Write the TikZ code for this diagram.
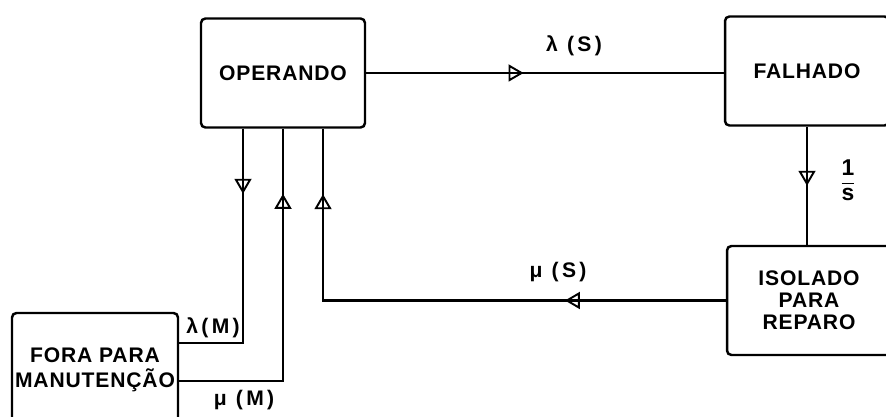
\documentclass[tikz,border=0pt]{standalone}
\usepackage{fontspec}
\setsansfont{Liberation Sans}[LetterSpace=4]
\usetikzlibrary{arrows.meta,calc,decorations.markings}
\tikzset{opentri/.tip={Triangle[open,length=3mm,width=3.4mm,line width=1.1pt]},
  blk/.style={draw, line width=1.4pt, rounded corners=2.5pt, minimum width=3.28cm, minimum height=2.18cm, inner sep=0.5pt, font=\sffamily\bfseries\fontsize{12}{12.5}\selectfont, align=center},
  ln/.style={line width=1.3pt},
  tri/.style={postaction={decorate,decoration={markings,mark=at position #1 with {\arrow{opentri}}}}},
  lbl/.style={font=\sffamily\bfseries\fontsize{12}{13}\selectfont\addfontfeatures{LetterSpace=16}, inner sep=1pt}}

\begin{document}
\begin{tikzpicture}[x=0.02cm, y=0.02cm]
  \useasboundingbox (0,0) rectangle (886,416);
  \clip (0,0) rectangle (886,416);
  \node[blk] (op) at (283,343) {OPERANDO};
  \node[blk] (fa) at (807,345) {FALHADO};
  \node[blk] (iso) at (809,115.5) {ISOLADO\\PARA\\REPARO};
  \node[blk, minimum width=3.32cm, minimum height=2.28cm] (fora) at (95,46) {FORA PARA\\[2pt]MANUTENÇÃO};
  % taps under OPERANDO
  \coordinate (t1) at ($(op.south)+(-40,0)$);
  \coordinate (t3) at ($(op.south)+(40,0)$);
  % failure and isolation
  \draw[ln, tri=0.44] (op.east) -- (op.east -| fa.west);
  \draw[ln, tri=0.5] (fa.south) -- (fa.south |- iso.north);
  % repair back to OPERANDO
  \draw[ln, tri=0.28, tri=0.886] (iso.west) -| (t3);
  % maintenance loop
  \draw[ln, tri=0.234] (t1) |- ($(fora.east)+(0,27)$);
  \draw[ln, tri=0.817] ($(fora.east)+(0,-11)$) -| (op.south);
  % rates
  \node[lbl] (ls) at (574,370) {λ (S)};
  \node[lbl] (ms) at (558,144) {μ (S)};
  \node[lbl, font=\sffamily\bfseries\fontsize{13}{14}\selectfont] (frac) at (848,233) {\begin{tabular}{@{}c@{}}1\\[0pt]\hline s\end{tabular}};
  \node[lbl] (lm) at (213,88) {λ(M)};
  \node[lbl] (mm) at (244,16) {μ (M)};
\end{tikzpicture}
\end{document}
